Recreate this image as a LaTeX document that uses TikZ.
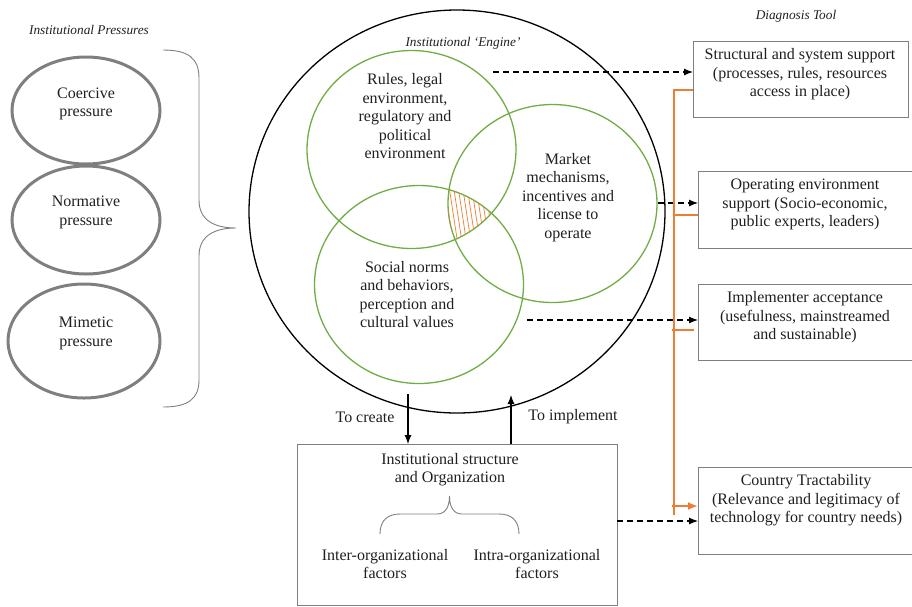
\documentclass[tikz,border=0pt]{standalone}
\usepackage{fontspec}
\setmainfont{Liberation Serif}
\usetikzlibrary{shapes.geometric,arrows.meta}
\definecolor{ggreen}{HTML}{70AD47}
\definecolor{gorange}{HTML}{ED7D31}
\definecolor{ggray}{HTML}{7F7F7F}
\definecolor{txt}{HTML}{1F1F1F}
\begin{document}
\begin{tikzpicture}[x=1pt,y=-1pt,
  every node/.style={text=txt, font=\fontsize{16}{18.5}\selectfont, align=center, inner sep=0pt, outer sep=0pt},
  ttl/.style={font=\fontsize{13.3}{16}\selectfont\itshape},
  press/.style={draw=ggray, line width=3pt, ellipse},
  greencirc/.style={draw=ggreen, line width=1.3pt, ellipse, minimum width=209pt, minimum height=198pt},
  box/.style={draw=ggray, line width=1pt, rectangle},
  dasharrow/.style={dash pattern=on 6pt off 4pt, line width=1.1pt, -{Latex[length=9pt,width=7pt]}},
  solidarrow/.style={line width=1.1pt, -{Latex[length=9pt,width=7pt]}},
  orangeline/.style={draw=gorange, line width=2.8pt},
  bracestyle/.style={draw=ggray, line width=0.9pt},
]
\useasboundingbox (0,0) rectangle (912,606);

% titles
\node[ttl] (t1) at (89,30) {Institutional Pressures};
\node[ttl] (t2) at (463,43) {Institutional ‘Engine’};
\node[ttl] (t3) at (796,16) {Diagnosis Tool};

% pressure ellipses
\node[press, minimum width=148pt, minimum height=107pt] (coe) at (86,110.5) {};
\node[press, minimum width=148pt, minimum height=108pt] (nor) at (86,220) {};
\node[press, minimum width=152pt, minimum height=114pt] (mim) at (84,341) {};
\node (coeT) at (86,104) {Coercive\\pressure};
\node (norT) at (86,212.5) {Normative\\pressure};
\node (mimT) at (86,333.5) {Mimetic\\pressure};

% left brace
\coordinate (bt) at (163,50);
\coordinate (btip) at (236,228);
\coordinate (bb) at (163,407);
\draw[bracestyle] (bt) .. controls (188,50) and (199,58) .. (199,78) -- (199,200)
  .. controls (199,220) and (214,228) .. (btip)
  .. controls (214,228) and (199,236) .. (199,256) -- (199,380)
  .. controls (199,399) and (188,407) .. (bb);

% engine
\node[draw, line width=1.3pt, ellipse, minimum width=416pt, minimum height=403pt] (engine) at (457,211.5) {};
\node[greencirc] (rules) at (411.5,149.5) {};
\node[greencirc] (market) at (552.5,203.5) {};
\node[greencirc] (social) at (419,284.5) {};

% hatch
\begin{scope}
  \clip (411.5,149.5) ellipse [x radius=104.5, y radius=99];
  \clip (552.5,203.5) ellipse [x radius=104.5, y radius=99];
  \clip (419,284.5) ellipse [x radius=104.5, y radius=99];
  \foreach \x in {424,428.5,...,500} {
    \draw[gorange, line width=0.7pt] (\x,170) -- (\x+13,255);
  }
\end{scope}

\node (rulesT) at (405,116.5) {Rules, legal\\environment,\\regulatory and\\political\\environment};
\node (marketT) at (568,197.5) {Market\\mechanisms,\\incentives and\\license to\\operate};
\node (socialT) at (407,294.5) {Social norms\\and behaviors,\\perception and\\cultural values};

% diagnosis boxes
\node[box, minimum width=215pt, minimum height=76pt] (sbox) at (800.5,79) {};
\node[box, minimum width=214pt, minimum height=77pt] (obox) at (805,209.5) {};
\node[box, minimum width=214pt, minimum height=76pt] (ibox) at (805,322) {};
\node[box, minimum width=214pt, minimum height=87pt] (cbox) at (805,510.5) {};
\node (sT) at (800,74.5) {Structural and system support\\(processes, rules, resources\\access in place)};
\node (oT) at (805,204.5) {Operating environment\\support (Socio-economic,\\public experts, leaders)};
\node (iT) at (805,317.5) {Implementer acceptance\\(usefulness, mainstreamed\\and sustainable)};
\node (cT) at (806,500.5) {Country Tractability\\(Relevance and legitimacy of\\technology for country needs)};

% bottom box
\node[box, minimum width=320pt, minimum height=161pt] (bbox) at (457,524.5) {};
\node (bT) at (450,469.5) {Institutional structure\\and Organization};
\node (interT) at (385,564) {Inter-organizational\\factors};
\node (intraT) at (537,564) {Intra-organizational\\factors};
\coordinate (sbl) at (380,534);
\coordinate (sbtip) at (449.5,496);
\coordinate (sbr) at (519,534);
\draw[bracestyle] (sbl) .. controls (380,520) and (388,514) .. (400,514) -- (437,514)
  .. controls (446,514) and (449.5,506) .. (sbtip)
  .. controls (449.5,506) and (453,514) .. (462,514) -- (499,514)
  .. controls (511,514) and (519,520) .. (sbr);

% create / implement arrows
\node (createT) at (365,417) {To create};
\node (implT) at (573,417) {To implement};
\coordinate (c1) at (408,394);
\coordinate (u1) at (511,395);
\draw[solidarrow] (c1) -- (c1 |- bbox.north);
\draw[solidarrow] (u1 |- bbox.north) -- (u1);

% dashed arrows
\coordinate (d1) at (493,72);
\coordinate (d2) at (658,203);
\coordinate (d3) at (527,320);
\coordinate (d4) at (617,521);
\draw[dasharrow] (d1) -- (d1 -| sbox.west);
\draw[dasharrow] (d2) -- (d2 -| obox.west);
\draw[dasharrow] (d3) -- (d3 -| ibox.west);
\draw[dasharrow] (d4) -- (d4 -| cbox.west);

% orange connector
\coordinate (o1) at (674,90);
\coordinate (o2) at (674,515);
\coordinate (k1) at (674,215);
\coordinate (k2) at (672,330);
\coordinate (k2e) at (694,330);
\coordinate (k3) at (672,506);
\draw[orangeline] (o1 -| sbox.west) -- (o1) -- (o2);
\draw[orangeline] (k1) -- (k1 -| obox.west);
\draw[orangeline] (k2) -- (k2e);
\draw[gorange, line width=2.8pt, -{Latex[length=10pt,width=8pt]}] (k3) -- (k3 -| cbox.west);
\end{tikzpicture}
\end{document}
